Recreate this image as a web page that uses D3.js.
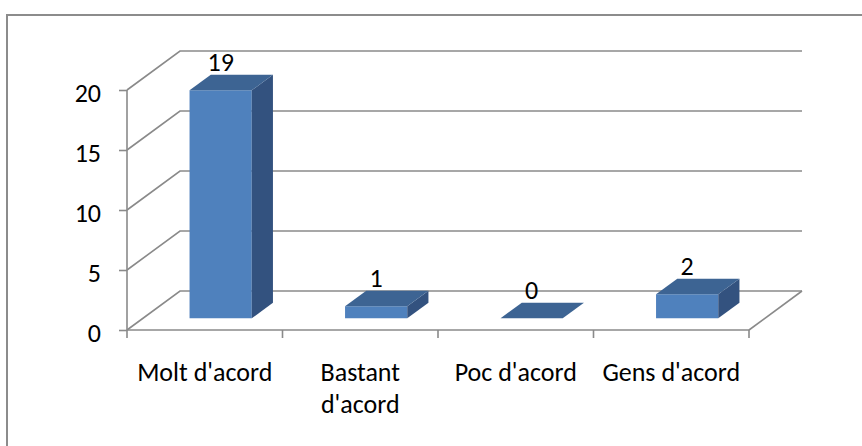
<!DOCTYPE html>
<html>
<head>
<meta charset="utf-8">
<script src="https://cdn.jsdelivr.net/npm/d3@7"></script>
<style>
  html, body { margin: 0; padding: 0; background: #fff; }
  svg { display: block; }
  text { font-family: Carlito, Calibri, Lato, "Noto Sans", sans-serif; fill: #000; }
</style>
</head>
<body>
<svg id="chart" width="862" height="446"></svg>
<script>
// Survey answers, one 3D column per category
const categories = ["Molt d'acord", "Bastant d'acord", "Poc d'acord", "Gens d'acord"];
const values = [19, 1, 0, 2];
const yTicks = [0, 5, 10, 15, 20];

const W = 862, H = 446;
const svg = d3.select("#chart");

// Front plane of the 3D box
const left = 127, right = 749, floorY = 330, topY = 90;
// Depth vector from the front plane to the back wall
const depth = { dx: 53, dy: -39 };
// Columns sit in the middle of the depth: 30% gap, 40% column, 30% gap
const dFront = 0.3, dBack = 0.7;

const x = d3.scaleBand().domain(categories).range([left, right]).paddingInner(0).paddingOuter(0);
const y = d3.scaleLinear().domain([0, 20]).range([floorY, topY]);
const barW = x.bandwidth() * 0.4;

const gridColor = "#8a8a8a";
const fontSize = 26;

// Outer frame (only the top and left edges fall inside the view)
svg.append("path")
  .attr("d", `M7,${H} L7,15 L${W},15`)
  .attr("fill", "none").attr("stroke", "#8c8c8c").attr("stroke-width", 2);

// Gridlines: diagonal on the left wall, horizontal on the back wall
const grid = svg.append("g").attr("fill", "none").attr("stroke", gridColor).attr("stroke-width", 1.6);
yTicks.forEach(t => {
  const yy = y(t);
  grid.append("path")
    .attr("d", `M${left},${yy} L${left + depth.dx},${yy + depth.dy} L${right + depth.dx},${yy + depth.dy}`);
});
// Floor right edge
grid.append("path")
  .attr("d", `M${right},${floorY} L${right + depth.dx},${floorY + depth.dy}`);

// Value axis on the front-left edge
const yAxis = d3.axisLeft(y).tickValues(yTicks).tickSize(8).tickPadding(18).tickSizeOuter(0);
const gy = svg.append("g").attr("transform", `translate(${left},0)`).call(yAxis);
gy.attr("font-size", fontSize).attr("font-family", null);
gy.select(".domain").attr("stroke", gridColor).attr("stroke-width", 1.6)
  .attr("d", `M0,${y(20)} L0,${y(0)}`);
gy.selectAll(".tick line").attr("stroke", gridColor).attr("stroke-width", 1.6);
gy.selectAll(".tick text").attr("dy", "0.45em");

// Category axis on the front floor edge
const xAxis = d3.axisBottom(x).tickSize(0).tickPadding(33).tickSizeOuter(0);
const gx = svg.append("g").attr("transform", `translate(0,${floorY})`).call(xAxis);
gx.attr("font-size", fontSize).attr("font-family", null);
gx.select(".domain").attr("stroke", gridColor).attr("stroke-width", 1.6)
  .attr("d", `M${left},0 L${right},0`);
gx.selectAll(".tick text").attr("dy", "0.71em")
  .each(function (d) {
    const t = d3.select(this);
    if (this.getComputedTextLength() > x.bandwidth() * 0.96) {
      const words = d.split(" ");
      t.text(null);
      words.forEach((w, i) => {
        t.append("tspan").attr("x", 0).attr("dy", i === 0 ? "0.71em" : "1.2em").text(w);
      });
    }
  });
// Ticks at category boundaries
const bounds = categories.map(c => x(c)).concat([x(categories[categories.length - 1]) + x.bandwidth()]);
gx.selectAll(".bound").data(bounds).join("line").attr("class", "bound")
  .attr("x1", d => d).attr("x2", d => d).attr("y1", 0).attr("y2", 8)
  .attr("stroke", gridColor).attr("stroke-width", 1.6);

// Columns
const frontColor = "#4f81bd", topColor = "#3d6493", sideColor = "#33527f";
const fx = depth.dx * dFront, fy = depth.dy * dFront;
const bx = depth.dx * dBack, by = depth.dy * dBack;

const bars = svg.append("g");
categories.forEach((c, i) => {
  const v = values[i];
  const x0 = x(c) + (x.bandwidth() - barW) / 2 + fx;
  const x1 = x0 + barW;
  const yb = y(0) + fy;
  const yt = y(v) + fy;
  const ddx = bx - fx, ddy = by - fy;
  const g = bars.append("g");
  if (v > 0) {
    // front face
    g.append("path").attr("fill", frontColor)
      .attr("d", `M${x0},${yb} L${x1},${yb} L${x1},${yt} L${x0},${yt} Z`);
    // right side face
    g.append("path").attr("fill", sideColor)
      .attr("d", `M${x1},${yb} L${x1 + ddx},${yb + ddy} L${x1 + ddx},${yt + ddy} L${x1},${yt} Z`);
  }
  // top face
  g.append("path").attr("fill", topColor)
    .attr("d", `M${x0},${yt} L${x1},${yt} L${x1 + ddx},${yt + ddy} L${x0 + ddx},${yt + ddy} Z`);
  // value label
  g.append("text")
    .attr("x", (x0 + x1) / 2)
    .attr("y", yt + ddy - 4)
    .attr("text-anchor", "middle")
    .attr("font-size", fontSize)
    .text(v);
});
</script>
</body>
</html>
